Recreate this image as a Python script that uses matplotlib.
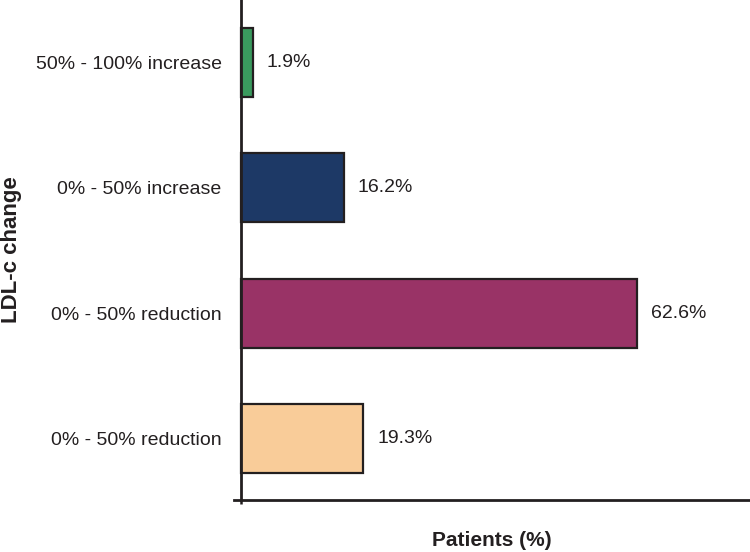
import matplotlib.pyplot as plt

plt.rcParams['font.family'] = ['Liberation Sans', 'DejaVu Sans']

# bottom to top
categories = ['0% - 50% reduction', '0% - 50% reduction', '0% - 50% increase', '50% - 100% increase']
values = [19.3, 62.6, 16.2, 1.9]
colors = ['#f9cc99', '#993366', '#1d3966', '#3a9a5e']

ink = '#231f20'
fig = plt.figure(figsize=(7.5, 5.52), dpi=100)
ax = fig.add_axes([234 / 750, 52 / 552, 516 / 750, 500 / 552])

pos = range(len(values))
ax.barh(pos, values, height=0.55, color=colors, edgecolor=ink, linewidth=1.6)
for p, v in zip(pos, values):
    ax.text(v + 2.2, p, f'{v}%', va='center', ha='left', fontsize=14, color=ink)

ax.set_xlim(-1.1, 80.4)
ax.set_ylim(-0.49, 3.498)
ax.set_yticks(list(pos))
ax.set_yticklabels(categories)
ax.tick_params(axis='y', length=0, pad=14, labelsize=14, labelcolor=ink)
ax.set_xticks([0])
ax.set_xticklabels([''])
ax.tick_params(axis='x', length=3, width=1.8, direction='out', color=ink)

ax.spines['left'].set_position(('data', 0))
ax.spines['top'].set_visible(False)
ax.spines['right'].set_visible(False)
for s in ('left', 'bottom'):
    ax.spines[s].set_linewidth(2)
    ax.spines[s].set_color(ink)

fig.text(12 / 750, 1 - 250 / 552, 'LDL-c change', rotation=90, ha='center', va='center',
         fontsize=16, fontweight='bold', color=ink)
fig.text(492 / 750, 1 - 541 / 552, 'Patients (%)', ha='center', va='center',
         fontsize=15, fontweight='bold', color=ink)

fig.savefig('out.png', dpi=100)
